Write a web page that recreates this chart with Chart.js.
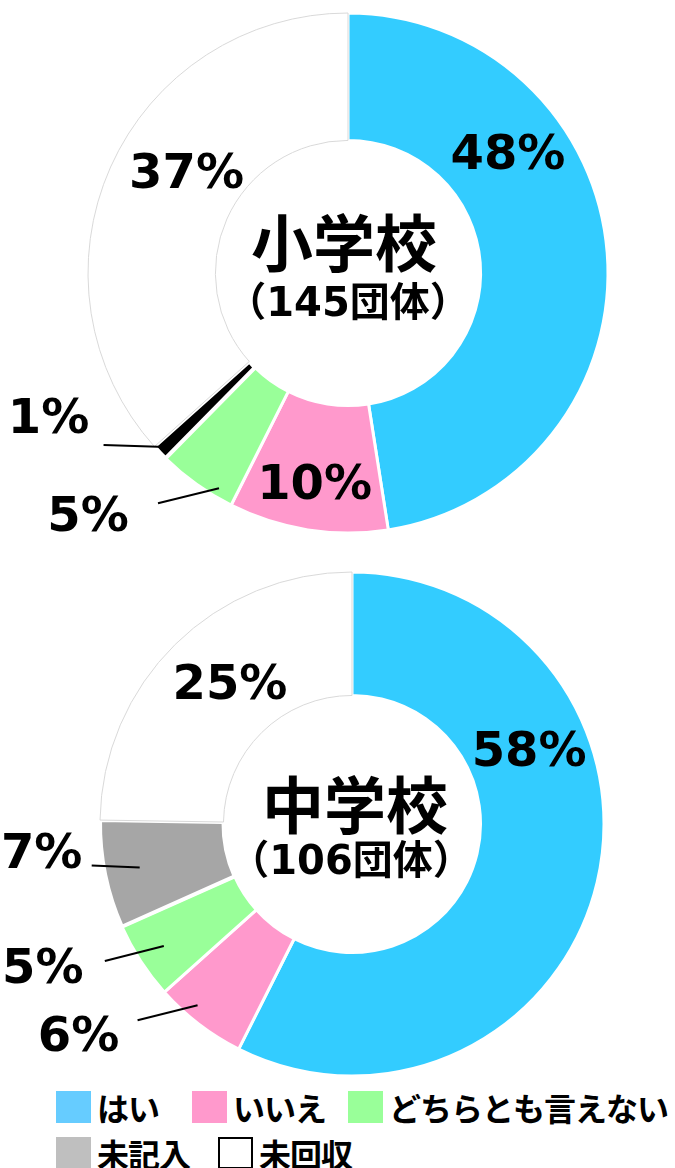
<!DOCTYPE html>
<html lang="ja">
<head>
<meta charset="utf-8">
<script src="https://cdn.jsdelivr.net/npm/chart.js@4.4.1/dist/chart.umd.min.js"></script>
<style>
    body {
        margin: 0;
        background: #fff;
        width: 675px;
        height: 1168px;
        position: relative;
        overflow: hidden;
    }
    .wrap { position: absolute; left: 0; width: 675px; }
    #wrapTop { top: 0; height: 560px; }
    #wrapBottom { top: 560px; height: 520px; }
    .legend-item {
        position: absolute;
        display: flex;
        align-items: center;
        font-family: "Noto Sans CJK JP", sans-serif;
        font-weight: bold;
        font-size: 32px;
        letter-spacing: -1px;
        line-height: 34px;
        color: #000;
        white-space: nowrap;
    }
    .legend-box {
        flex: 0 0 auto;
        width: 35px;
        height: 32px;
        margin-right: 6px;
        box-sizing: border-box;
    }
</style>
</head>
<body>
<div class="wrap" id="wrapTop"><canvas id="chartTop"></canvas></div>
<div class="wrap" id="wrapBottom"><canvas id="chartBottom"></canvas></div>
<div id="legend"></div>

<script>
// categories / values (percent)
const categories = ['はい', 'いいえ', 'どちらとも言えない', '未記入', '未回収'];
const elementaryValues = [48, 10, 5, 1, 37];
const juniorValues = [58, 6, 5, 7, 25];

const elementaryTitle = ['小学校', '（145団体）'];
const juniorTitle = ['中学校', '（106団体）'];

const sliceColorsTop = ['#33ccff', '#ff99cc', '#99ff99', '#000000', '#ffffff'];
const sliceColorsBottom = ['#33ccff', '#ff99cc', '#99ff99', '#a6a6a6', '#ffffff'];
const sliceBorders = ['#ffffff', '#ffffff', '#ffffff', '#ffffff', '#d9d9d9'];
const sliceBorderWidths = [3, 3, 3, 4, 1];
const legendColors = ['#66ccff', '#ff99cc', '#99ff99', '#bfbfbf', '#ffffff'];

const pctFont = 'bold 48px "DejaVu Sans", "Noto Sans CJK JP", sans-serif';

// label placement per slice (kept outside chart options so Chart.js doesn't proxy it)
// inside: shift (deg) + r (fraction of outer radius)
// outside: shift, out = [start radius fraction, line dx, line dy], text = offset from line end
const placeTop = [
    { shift: -31.5, r: 0.76 },
    { shift: 0, r: 0.83 },
    { shift: -4.7, out: [0.965, -61, 15], text: [-70, 15] },
    { shift: 0, out: [0.97, -62, -2], text: [-55, -25] },
    { shift: 7, r: 0.725 }
];
const placeBottom = [
    { shift: -35, r: 0.756 },
    { shift: 3, out: [0.945, -60, 15], text: [-59, 18] },
    { shift: 0, out: [0.89, -59, 15], text: [-62, 9] },
    { shift: 0, out: [0.86, -48, -2], text: [-50, -10] },
    { shift: 3, r: 0.73 }
];

function labelPlugin(place, title, titlePos) {
    return {
        id: 'sliceLabels',
        afterDatasetsDraw(chart) {
            const ctx = chart.ctx;
            const meta = chart.getDatasetMeta(0);
            const values = chart.data.datasets[0].data;
            const total = values.reduce((a, b) => a + b, 0);
            ctx.save();
            ctx.font = pctFont;
            ctx.fillStyle = '#000';
            ctx.textAlign = 'center';
            ctx.textBaseline = 'middle';
            meta.data.forEach((arc, i) => {
                const p = place[i];
                const text = Math.round(values[i] / total * 101) + '%';
                const mid = (arc.startAngle + arc.endAngle) / 2 + p.shift * Math.PI / 180;
                if (p.out) {
                    const r = arc.outerRadius * p.out[0];
                    const x0 = arc.x + Math.cos(mid) * r;
                    const y0 = arc.y + Math.sin(mid) * r;
                    const x1 = x0 + p.out[1];
                    const y1 = y0 + p.out[2];
                    ctx.beginPath();
                    ctx.strokeStyle = '#000';
                    ctx.lineWidth = 2;
                    ctx.moveTo(x0, y0);
                    ctx.lineTo(x1, y1);
                    ctx.stroke();
                    ctx.fillText(text, x1 + p.text[0], y1 + p.text[1]);
                } else {
                    const r = arc.outerRadius * p.r;
                    ctx.fillText(text, arc.x + Math.cos(mid) * r, arc.y + Math.sin(mid) * r);
                }
            });
            // centre title
            const c = meta.data[0];
            ctx.font = 'bold 62px "Noto Sans CJK JP", sans-serif';
            ctx.fillText(title[0], c.x + titlePos[0], c.y + titlePos[1]);
            ctx.font = 'bold 40px "DejaVu Sans", "Noto Sans CJK JP", sans-serif';
            ctx.fillText(title[1], c.x + titlePos[2], c.y + titlePos[3]);
            ctx.restore();
        }
    };
}

function makeDoughnut(canvasId, values, colors, padding, plugin) {
    const ctx = document.getElementById(canvasId).getContext('2d');
    return new Chart(ctx, {
        type: 'doughnut',
        data: {
            labels: categories,
            datasets: [{
                data: values,
                backgroundColor: colors,
                borderColor: sliceBorders,
                borderWidth: sliceBorderWidths,
                hoverOffset: 0
            }]
        },
        options: {
            responsive: true,
            maintainAspectRatio: false,
            animation: false,
            cutout: '51%',
            layout: { padding: padding },
            plugins: {
                legend: { display: false },
                tooltip: { enabled: false }
            }
        },
        plugins: [plugin]
    });
}

makeDoughnut('chartTop', elementaryValues, sliceColorsTop,
    { left: 86, right: 65, top: 11, bottom: 25 },
    labelPlugin(placeTop, elementaryTitle, [-4, -30, 0, 33]));

makeDoughnut('chartBottom', juniorValues, sliceColorsBottom,
    { left: 98, right: 69, top: 10, bottom: 2 },
    labelPlugin(placeBottom, juniorTitle, [3, -19, -1, 40]));

// legend (HTML, spans both charts)
const legendPos = [[56, 1090], [192, 1090], [348, 1090], [56, 1136], [218, 1136]];
const legend = document.getElementById('legend');
categories.forEach((name, i) => {
    const item = document.createElement('div');
    item.className = 'legend-item';
    item.style.left = legendPos[i][0] + 'px';
    item.style.top = legendPos[i][1] + 'px';
    const box = document.createElement('span');
    box.className = 'legend-box';
    box.style.background = legendColors[i];
    if (i === 4) box.style.border = '2px solid #000';
    item.appendChild(box);
    item.appendChild(document.createTextNode(name));
    legend.appendChild(item);
});
</script>
</body>
</html>
